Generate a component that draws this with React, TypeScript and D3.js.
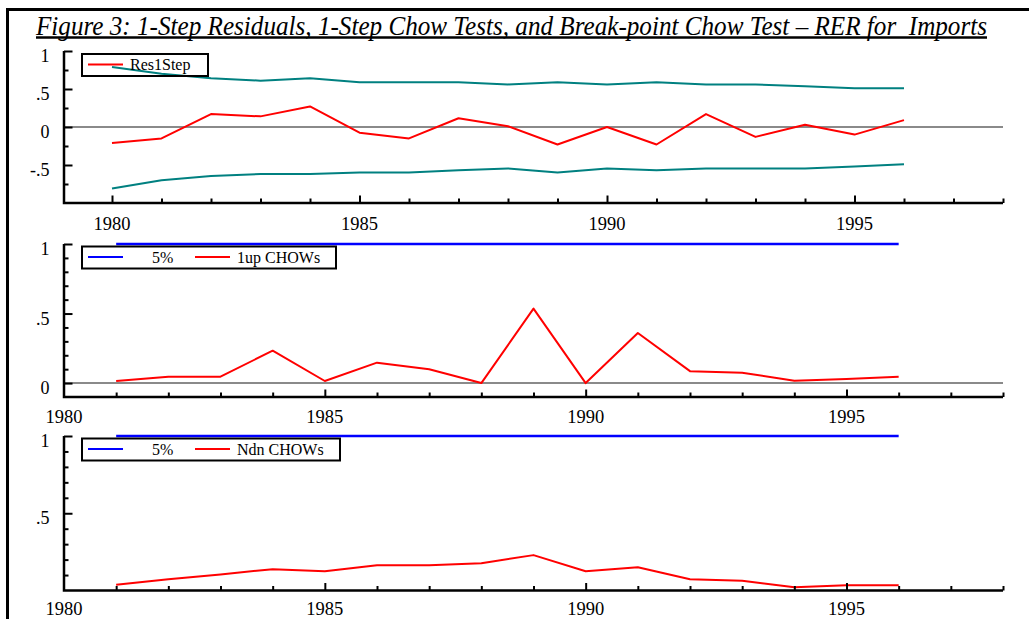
import React, { useEffect, useRef } from 'react';
import * as d3 from 'd3';

// values
const years = [1980, 1981, 1982, 1983, 1984, 1985, 1986, 1987, 1988, 1989, 1990, 1991, 1992, 1993, 1994, 1995, 1996];
const res1Step = [-0.21, -0.15, 0.17, 0.14, 0.27, -0.075, -0.15, 0.115, 0.01, -0.23, 0.0, -0.23, 0.17, -0.13, 0.03, -0.1, 0.09];
const upperBand = [0.79, 0.7, 0.64, 0.61, 0.64, 0.59, 0.59, 0.59, 0.56, 0.59, 0.56, 0.59, 0.56, 0.56, 0.535, 0.51, 0.51];
const lowerBand = [-0.81, -0.7, -0.645, -0.62, -0.62, -0.6, -0.6, -0.57, -0.545, -0.6, -0.545, -0.57, -0.545, -0.545, -0.545, -0.52, -0.49];

const chowYears = [1981, 1982, 1983, 1984, 1985, 1986, 1987, 1988, 1989, 1990, 1991, 1992, 1993, 1994, 1995, 1996];
const oneUpChow = [0.015, 0.046, 0.046, 0.233, 0.015, 0.147, 0.1, 0.0, 0.535, 0.0, 0.36, 0.086, 0.075, 0.017, 0.03, 0.046];
const ndnChow = [0.037, 0.073, 0.104, 0.138, 0.125, 0.164, 0.164, 0.177, 0.229, 0.125, 0.151, 0.073, 0.063, 0.021, 0.034, 0.034];
const critical5 = [1, 1, 1, 1, 1, 1, 1, 1, 1, 1, 1, 1, 1, 1, 1, 1];

const yearLabels = [1980, 1985, 1990, 1995];
const title = 'Figure 3: 1-Step Residuals, 1-Step Chow Tests, and Break-point Chow Test \u2013 RER for  Imports';

const serif = '"Liberation Serif", "Times New Roman", serif';

type Series = { xs: number[]; ys: number[]; color: string; width: number };
type LegendItem = { label: string; color: string };

type PanelOpts = {
  x: d3.ScaleLinear<number, number>;
  y: d3.ScaleLinear<number, number>;
  xMinor: number[];
  xMajor: number[];
  yMinor: number[];
  yMajor: number[];
  yLabels: [number, string][];
  labelBase: number;
  zeroLine: boolean;
  series: Series[];
  legend: { items: LegendItem[]; box: [number, number, number, number]; spread: number };
};

const drawPanel = (svg: d3.Selection<SVGSVGElement, unknown, null, undefined>, o: PanelOpts) => {
  const g = svg.append('g');
  const x0 = 64;
  const xEnd = o.x(1998);
  const [yBot, yTop] = o.y.range();

  if (o.zeroLine) {
    g.append('line')
      .attr('x1', x0).attr('x2', xEnd)
      .attr('y1', o.y(0)).attr('y2', o.y(0))
      .attr('stroke', '#8a8a8a').attr('stroke-width', 2);
  }

  const line = d3.line<[number, number]>().x(d => o.x(d[0])).y(d => o.y(d[1]));
  o.series.forEach(s => {
    g.append('path')
      .datum(s.xs.map((v, i) => [v, s.ys[i]] as [number, number]))
      .attr('d', line)
      .attr('fill', 'none')
      .attr('stroke', s.color)
      .attr('stroke-width', s.width)
      .attr('stroke-linejoin', 'round');
  });

  // y ticks pointing inward
  const yTicks = (values: number[], size: number) =>
    g.append('g')
      .attr('transform', `translate(${x0},0)`)
      .call(d3.axisRight(o.y).tickValues(values).tickSize(size).tickSizeOuter(0).tickFormat(() => ''))
      .call(a => a.select('.domain').remove())
      .call(a => a.selectAll('line').attr('stroke', '#000').attr('stroke-width', 2));
  yTicks(o.yMinor, 4.5);
  yTicks(o.yMajor, 8.5);

  // x ticks pointing up
  const xTicks = (values: number[], size: number) =>
    g.append('g')
      .attr('transform', `translate(0,${yBot})`)
      .call(d3.axisTop(o.x).tickValues(values).tickSize(size).tickSizeOuter(0).tickFormat(() => ''))
      .call(a => a.select('.domain').remove())
      .call(a => a.selectAll('line').attr('stroke', '#000').attr('stroke-width', 2));
  xTicks(o.xMinor, 4.5);
  xTicks(o.xMajor, 7.5);

  // axis lines
  g.append('path')
    .attr('d', `M${x0},${yTop}V${yBot}H${xEnd}`)
    .attr('fill', 'none')
    .attr('stroke', '#000')
    .attr('stroke-width', 2.5);

  g.selectAll('text.ylab')
    .data(o.yLabels)
    .join('text')
    .attr('class', 'ylab')
    .attr('x', 49.5)
    .attr('y', d => o.y(d[0]) + 11)
    .attr('text-anchor', 'end')
    .attr('font-family', serif)
    .attr('font-size', 18)
    .text(d => d[1]);

  g.selectAll('text.xlab')
    .data(yearLabels)
    .join('text')
    .attr('class', 'xlab')
    .attr('x', d => o.x(d))
    .attr('y', o.labelBase)
    .attr('text-anchor', 'middle')
    .attr('font-family', serif)
    .attr('font-size', 18.5)
    .text(d => d);

  // legend
  const [bx, by, bw, bh] = o.legend.box;
  g.append('rect')
    .attr('x', bx).attr('y', by).attr('width', bw).attr('height', bh)
    .attr('fill', 'none').attr('stroke', '#000').attr('stroke-width', 2);
  const cy = by + bh / 2 - 0.5;
  o.legend.items.forEach((it, i) => {
    const lx = bx + 6 + i * o.legend.spread;
    g.append('line')
      .attr('x1', lx).attr('x2', lx + 35)
      .attr('y1', cy).attr('y2', cy)
      .attr('stroke', it.color).attr('stroke-width', 2);
    g.append('text')
      .attr('x', lx + (it.label === '5%' ? 64 : 42))
      .attr('y', cy + 5.5)
      .attr('font-family', serif)
      .attr('font-size', 16)
      .text(it.label);
  });
};

const App = () => {
  const ref = useRef<SVGSVGElement>(null);

  useEffect(() => {
    const svg = d3.select(ref.current as SVGSVGElement);
    svg.selectAll('*').remove();

    // outer frame
    svg.append('path')
      .attr('d', 'M7.5,619V9.5H1029')
      .attr('fill', 'none')
      .attr('stroke', '#000')
      .attr('stroke-width', 3);

    // title: narrower font stretched vertically, like the condensed original
    svg.append('text')
      .attr('transform', 'translate(36,35) scale(1,1.1)')
      .attr('font-family', serif)
      .attr('font-style', 'italic')
      .attr('font-size', 24.5)
      .attr('textLength', 951)
      .attr('lengthAdjust', 'spacingAndGlyphs')
      .style('white-space', 'pre')
      .text(title);
    svg.append('line')
      .attr('x1', 36).attr('x2', 987)
      .attr('y1', 37.5).attr('y2', 37.5)
      .attr('stroke', '#000').attr('stroke-width', 2.5);

    const x1 = d3.scaleLinear().domain([1979, 1998]).range([62.5, 1003]);
    const x23 = d3.scaleLinear().domain([1980, 1998]).range([64, 1003]);

    drawPanel(svg, {
      x: x1,
      y: d3.scaleLinear().domain([-1, 1]).range([203, 51]),
      xMinor: [1981, 1982, 1983, 1984, 1986, 1987, 1988, 1989, 1991, 1992, 1993, 1994, 1996, 1997, 1998],
      xMajor: [1980, 1985, 1990, 1995],
      yMinor: [-0.75, -0.25, 0.25, 0.75],
      yMajor: [-0.5, 0, 0.5, 1],
      yLabels: [[1, '1'], [0.5, '.5'], [0, '0'], [-0.5, '-.5']],
      labelBase: 230,
      zeroLine: true,
      series: [
        { xs: years, ys: upperBand, color: '#008080', width: 2 },
        { xs: years, ys: lowerBand, color: '#008080', width: 2 },
        { xs: years, ys: res1Step, color: '#ff0000', width: 2 },
      ],
      legend: { items: [{ label: 'Res1Step', color: '#ff0000' }], box: [82, 54, 126, 22], spread: 0 },
    });

    drawPanel(svg, {
      x: x23,
      y: d3.scaleLinear().domain([-0.1, 1]).range([397, 244]),
      xMinor: [1981, 1982, 1983, 1984, 1986, 1987, 1988, 1989, 1991, 1992, 1993, 1994, 1996, 1997, 1998],
      xMajor: [1985, 1990, 1995],
      yMinor: [0.1, 0.2, 0.3, 0.4, 0.6, 0.7, 0.8, 0.9],
      yMajor: [0, 0.5, 1],
      yLabels: [[1, '1'], [0.5, '.5'], [0, '0']],
      labelBase: 423,
      zeroLine: true,
      series: [
        { xs: chowYears, ys: critical5, color: '#0000ff', width: 2.5 },
        { xs: chowYears, ys: oneUpChow, color: '#ff0000', width: 2 },
      ],
      legend: {
        items: [{ label: '5%', color: '#0000ff' }, { label: '1up CHOWs', color: '#ff0000' }],
        box: [82, 246.5, 254, 22],
        spread: 107,
      },
    });

    drawPanel(svg, {
      x: x23,
      y: d3.scaleLinear().domain([0, 1]).range([590.5, 436]),
      xMinor: [1981, 1982, 1983, 1984, 1986, 1987, 1988, 1989, 1991, 1992, 1993, 1994, 1996, 1997, 1998],
      xMajor: [1985, 1990, 1995],
      yMinor: [0.1, 0.2, 0.3, 0.4, 0.6, 0.7, 0.8, 0.9],
      yMajor: [0.5, 1],
      yLabels: [[1, '1'], [0.5, '.5']],
      labelBase: 615,
      zeroLine: false,
      series: [
        { xs: chowYears, ys: critical5, color: '#0000ff', width: 2.5 },
        { xs: chowYears, ys: ndnChow, color: '#ff0000', width: 2 },
      ],
      legend: {
        items: [{ label: '5%', color: '#0000ff' }, { label: 'Ndn CHOWs', color: '#ff0000' }],
        box: [82, 438.5, 258, 22],
        spread: 107,
      },
    });
  }, []);

  return (
    <svg
      ref={ref}
      width={1029}
      height={619}
      style={{ position: 'absolute', left: 0, top: 0, background: '#fff' }}
    />
  );
};

export default App;
